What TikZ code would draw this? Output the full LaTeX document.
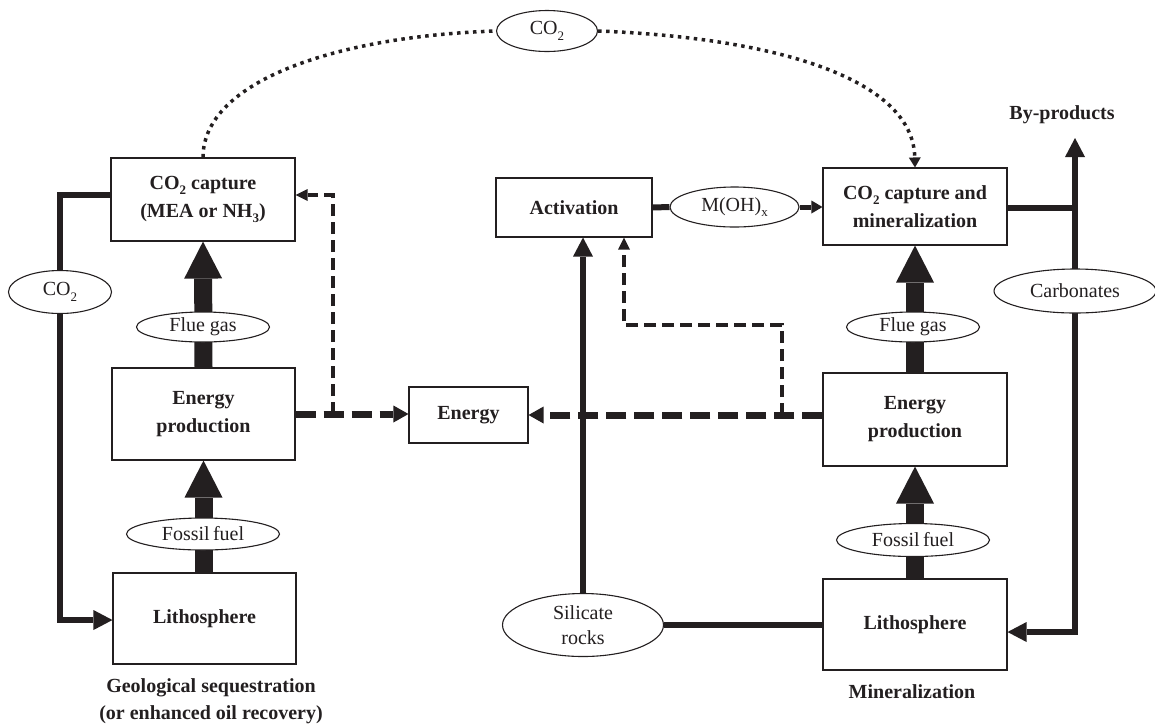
\documentclass[tikz,border=0pt]{standalone}
\usepackage{fontspec}
\setmainfont{Liberation Serif}
\usetikzlibrary{arrows.meta,shapes.geometric,backgrounds}
\definecolor{ink}{HTML}{231F20}
% lowered, smaller index for chemical formulas
\newcommand{\lowsub}[1]{\raisebox{-0.28em}{\fontsize{13}{13}\selectfont #1}}

\begin{document}
\begin{tikzpicture}[x=1pt,y=-1pt,
  every node/.style={text=ink},
  box/.style={draw=ink, line width=1.1pt, fill=white, inner sep=0pt, align=center,
    font=\fontsize{20}{28}\selectfont\bfseries},
  oval/.style={ellipse, draw=ink, line width=1.1pt, fill=white, inner sep=0pt, align=center,
    font=\fontsize{20}{25}\selectfont},
  undertext/.style={align=center, font=\fontsize{20}{27}\selectfont\bfseries},
  block/.style={draw=ink, line width=18pt, -{Triangle[width=38pt,length=37pt,line width=0pt]}},
  conn/.style={draw=ink, line width=6pt},
  connarrow/.style={conn, -{Triangle[width=20pt,length=19pt,line width=0pt]}},
  smallarrow/.style={draw=ink, line width=5pt, -{Triangle[width=13pt,length=11pt,line width=0pt]}},
  thickdash/.style={draw=ink, line width=7pt, dash pattern=on 20pt off 8pt,
    -{Triangle[width=17pt,length=15pt,line width=0pt]}},
  thindash/.style={draw=ink, line width=3.5pt, dash pattern=on 12pt off 6pt,
    -{Triangle[width=12pt,length=12pt,line width=0pt]}},
  dotline/.style={draw=ink, line width=3.5pt, dash pattern=on 3.5pt off 4.5pt},
  dottip/.style={-{Triangle[width=12pt,length=10pt,line width=0pt]}}
]
\useasboundingbox (0,0) rectangle (1155,724);

% ---- process boxes ----
\node[box, minimum width=184pt, minimum height=83pt] (capL) at (203,199.5) {CO\lowsub{2} capture\\(MEA or NH\lowsub{3})};
\node[box, minimum width=183pt, minimum height=92pt] (epL) at (203.5,414) {Energy\\production};
\node[box, minimum width=183pt, minimum height=91pt] (lithL) at (204.5,618.5) {Lithosphere};
\node[box, minimum width=119pt, minimum height=56pt] (energy) at (468.5,415) {Energy};
\node[box, minimum width=156pt, minimum height=59pt] (act) at (574,207.5) {Activation};
\node[box, minimum width=184pt, minimum height=77pt] (capR) at (915,206.5) {CO\lowsub{2} capture and\\mineralization};
\node[box, minimum width=184pt, minimum height=93pt] (epR) at (915,419.5) {Energy\\production};
\node[box, minimum width=184pt, minimum height=91pt] (lithR) at (915,624.5) {Lithosphere};

% ---- stream labels ----
\node[oval, minimum width=101pt, minimum height=41pt] (co2top) at (547,31) {CO\lowsub{2}};
\node[oval, minimum width=103pt, minimum height=43pt] (co2L) at (60,292) {CO\lowsub{2}};
\node[oval, minimum width=133pt, minimum height=30pt] (flueL) at (203,327) {Flue gas};
\node[oval, minimum width=153pt, minimum height=32pt] (fossilL) at (203,534) {Fossil\,fuel};
\node[oval, minimum width=133pt, minimum height=30pt] (flueR) at (913,327) {Flue gas};
\node[oval, minimum width=153pt, minimum height=33pt] (fossilR) at (913,540) {Fossil\,fuel};
\node[oval, minimum width=162pt, minimum height=44pt] (carb) at (1075,291) {Carbonates};
\node[oval, minimum width=129pt, minimum height=40pt] (moh) at (734.5,207) {M(OH)\lowsub{x}};
\node[oval, minimum width=161pt, minimum height=63pt] (silicate) at (583,625) {Silicate\\rocks};

% ---- captions ----
\node[undertext] (byprod) at (1062,115) {By-products};
\node[undertext] (geo) at (211,701.5) {Geological sequestration\\(or enhanced oil recovery)};
\node[undertext] (mineral) at (912,692) {Mineralization};

% ---- routing points ----
\coordinate (loopTop) at (60,195);
\coordinate (loopBot) at (60,620);
\coordinate (jL) at (333,414);
\coordinate (jR) at (782,415);
\coordinate (kR) at (624,325);
\coordinate (jB) at (1075,208);
\coordinate (byTip) at (1075,138);
\coordinate (cornerR) at (1075,632);

\begin{scope}[on background layer]
  % main material flows
  \draw[block] (epL.north) -- (capL.south);
  \draw[block] (epL.south |- lithL.north) -- (epL.south);
  \draw[block] (epR.north) -- (capR.south);
  \draw[block] (epR.south |- lithR.north) -- (epR.south);
  % geological storage loop
  \draw[connarrow] (capL.west |- loopTop) -- (loopTop) -- (loopBot) -- (lithL.west |- loopBot);
  % energy flows
  \draw[thickdash] (epL.east) -- (energy.west |- epL.east);
  \draw[thickdash] (epR.west |- energy.east) -- (energy.east);
  \draw[thindash] (jL) |- (capL.east |- loopTop);
  \draw[thindash] (jR) |- (kR) -- (act.south -| kR);
  % mineralization route
  \draw[connarrow] (silicate.north) -- (act.south -| silicate.north);
  \draw[conn] (silicate.east) -- (lithR.west |- silicate.east);
  \draw[conn] (act.east) -- (moh.west);
  \draw[smallarrow] (moh.east) -- (capR.west |- moh.east);
  \draw[conn] (capR.east |- jB) -- (jB);
  \draw[connarrow] (jB) -- (byTip);
  \draw[connarrow] (jB) -- (cornerR) -- (lithR.east |- cornerR);
  % CO2 transfer between the two routes
  \draw[dotline] (capL.north) .. controls (203,80) and (340,36) .. (co2top.west);
  \draw[dotline, dottip] (co2top.east) .. controls (780,38) and (913,80) .. (capR.north);
\end{scope}
\end{tikzpicture}
\end{document}
